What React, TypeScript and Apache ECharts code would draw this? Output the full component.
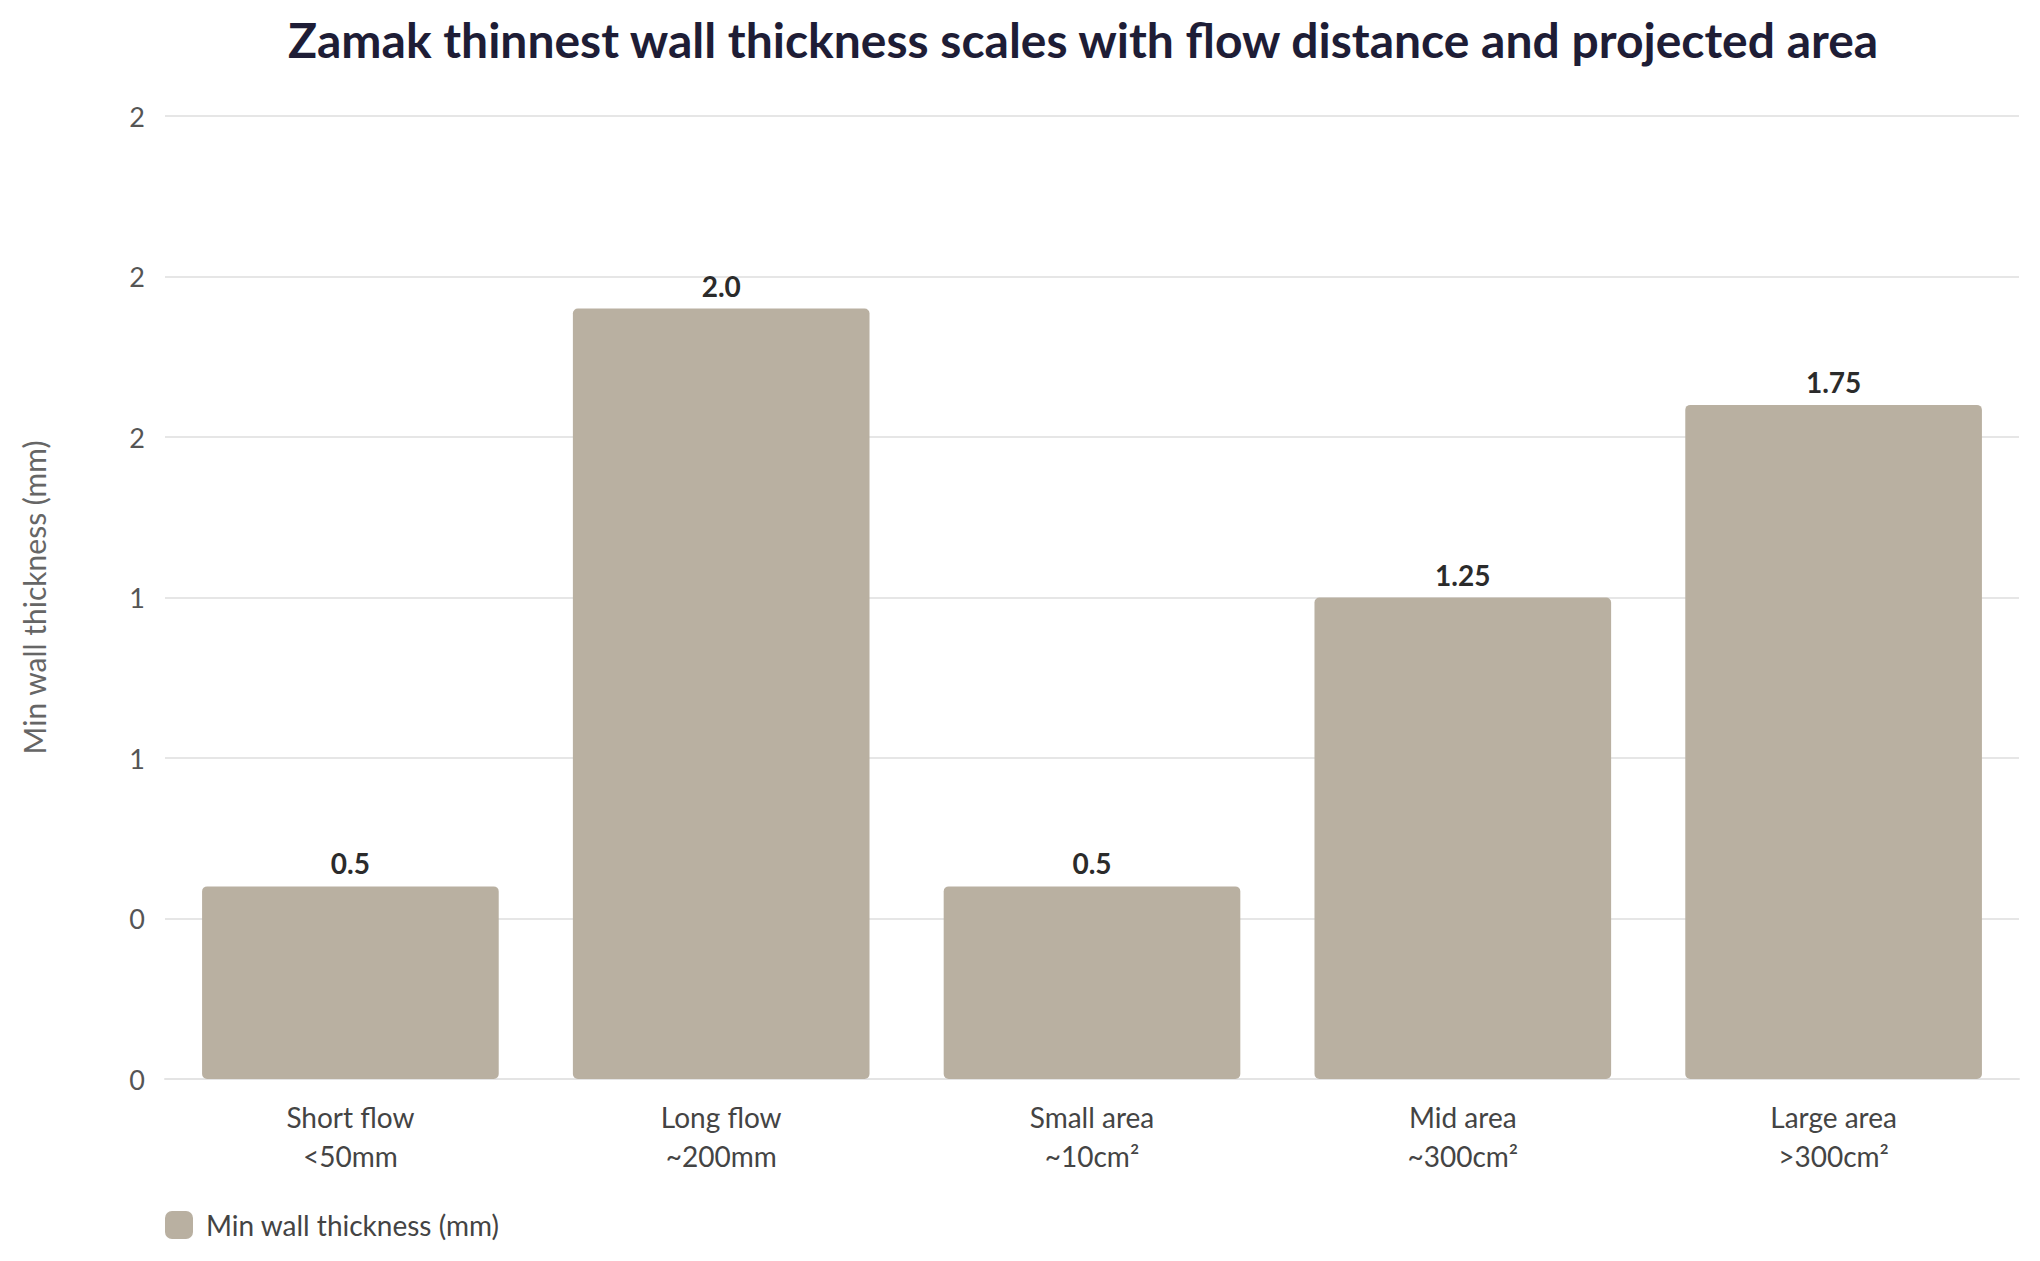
import React, { useEffect, useRef } from "react";
import * as echarts from "echarts";

const categories = [
  "Short flow\n<50mm",
  "Long flow\n~200mm",
  "Small area\n~10cm²",
  "Mid area\n~300cm²",
  "Large area\n>300cm²",
];
const minWallThickness = [0.5, 2.0, 0.5, 1.25, 1.75];
const valueLabels = ["0.5", "2.0", "0.5", "1.25", "1.75"];
const yTickLabels = ["0", "0", "1", "1", "2", "2", "2"];
const yMax = 2.5;
const yInterval = yMax / 6;

const FONT = "Lato, 'Noto Sans', sans-serif";

export default function App() {
  const ref = useRef<HTMLDivElement>(null);

  useEffect(() => {
    document.body.style.margin = "0";
    if (!ref.current) return;
    const chart = echarts.init(ref.current, undefined, { renderer: "svg" });
    chart.setOption({
      animation: false,
      backgroundColor: "#ffffff",
      textStyle: { fontFamily: FONT },
      title: {
        text: "Zamak thinnest wall thickness scales with flow distance and projected area",
        left: 283,
        top: 10,
        textStyle: {
          fontFamily: FONT,
          fontSize: 48,
          fontWeight: "bold",
          color: "#1e1d36",
        },
      },
      legend: {
        left: 160,
        top: 1206,
        icon: "roundRect",
        itemWidth: 28,
        itemHeight: 28,
        itemGap: 20,
        textStyle: { fontFamily: FONT, fontSize: 28, color: "#444444", padding: [0, 0, 0, 8] },
        data: ["Min wall thickness (mm)"],
      },
      grid: { left: 165, right: 21, top: 116, bottom: 182, containLabel: false },
      xAxis: {
        type: "category",
        data: categories,
        axisLine: { show: true, lineStyle: { color: "#e4e4e4", width: 2 } },
        axisTick: { show: false },
        axisLabel: {
          fontFamily: FONT,
          fontSize: 28,
          color: "#444444",
          lineHeight: 39,
          margin: 18,
        },
      },
      yAxis: {
        type: "value",
        min: 0,
        max: yMax,
        interval: yInterval,
        name: "Min wall thickness (mm)",
        nameLocation: "middle",
        nameGap: 116,
        nameTextStyle: { fontFamily: FONT, fontSize: 30, color: "#666666" },
        axisLine: { show: false },
        axisTick: { show: false },
        splitLine: { lineStyle: { color: "#e6e6e6", width: 2 } },
        axisLabel: {
          fontFamily: FONT,
          fontSize: 27,
          color: "#555555",
          margin: 20,
          formatter: (v: number) => yTickLabels[Math.round(v / yInterval)] ?? "",
        },
      },
      series: [
        {
          name: "Min wall thickness (mm)",
          type: "bar",
          data: minWallThickness,
          barCategoryGap: "20%",
          itemStyle: { color: "#b9b0a1", borderRadius: 5 },
          label: {
            show: true,
            position: "top",
            distance: 9,
            fontFamily: FONT,
            fontSize: 28,
            fontWeight: "bold",
            color: "#2b2b2b",
            formatter: (p: any) => valueLabels[p.dataIndex],
          },
        },
      ],
    });
    return () => chart.dispose();
  }, []);

  return <div ref={ref} style={{ width: 2040, height: 1261 }} />;
}
